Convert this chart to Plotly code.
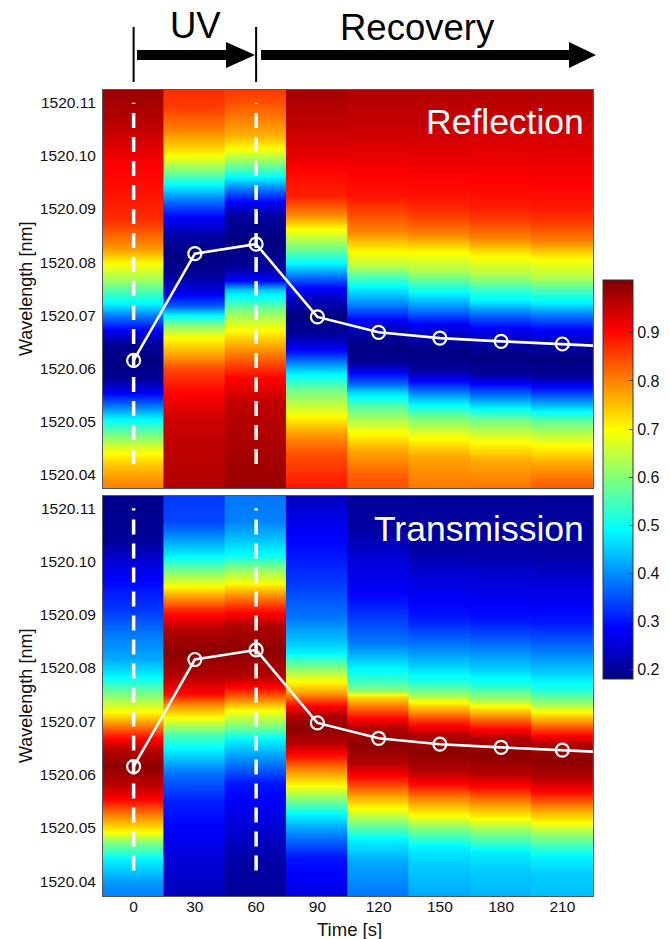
import plotly.graph_objects as go

# ---------------- data ----------------
TIMES = [0, 30, 60, 90, 120, 150, 180, 210]
COLUMN_HALF_WIDTH = 15

# white line (peak wavelength)
PEAK_WL = [1520.0615, 1520.0816, 1520.0834, 1520.0697, 1520.0668, 1520.0657, 1520.0651, 1520.0646]
TAIL_TIME = 225
TAIL_WL = 1520.0643

DASH_TIMES = [0, 60]
DASH_SPAN = [1520.042, 1520.110]

WL_TICKS = [1520.04, 1520.05, 1520.06, 1520.07, 1520.08, 1520.09, 1520.10, 1520.11]
CBAR_TICKS = [0.2, 0.3, 0.4, 0.5, 0.6, 0.7, 0.8, 0.9]

# Reflection spectra (wavelength, normalised value) per time column
R000_WL = [1520.1124, 1520.1057, 1520.0987, 1520.0925, 1520.0882, 1520.0855, 1520.0825, 1520.0799, 1520.0767, 1520.0744, 1520.0722, 1520.0699, 1520.0673, 1520.0648, 1520.0614, 1520.0581, 1520.0558, 1520.0535, 1520.0507, 1520.0479, 1520.0445, 1520.0417, 1520.0389, 1520.0376]
R000_VAL = [0.99, 0.96, 0.91, 0.89, 0.87, 0.83, 0.78, 0.70, 0.62, 0.55, 0.48, 0.38, 0.28, 0.20, 0.18, 0.20, 0.27, 0.36, 0.48, 0.58, 0.69, 0.75, 0.79, 0.80]
R030_WL = [1520.1124, 1520.1094, 1520.1049, 1520.1019, 1520.1002, 1520.0974, 1520.0944, 1520.0912, 1520.0884, 1520.0852, 1520.0814, 1520.0776, 1520.0742, 1520.0718, 1520.0705, 1520.0686, 1520.0662, 1520.0620, 1520.0599, 1520.0560, 1520.0503, 1520.0376]
R030_VAL = [0.87, 0.86, 0.80, 0.74, 0.70, 0.60, 0.48, 0.36, 0.28, 0.21, 0.18, 0.20, 0.27, 0.36, 0.46, 0.58, 0.69, 0.79, 0.85, 0.90, 0.95, 0.97]
R060_WL = [1520.1124, 1520.1100, 1520.1068, 1520.1038, 1520.1015, 1520.0987, 1520.0959, 1520.0938, 1520.0914, 1520.0887, 1520.0840, 1520.0790, 1520.0767, 1520.0748, 1520.0709, 1520.0677, 1520.0635, 1520.0586, 1520.0535, 1520.0376]
R060_VAL = [0.86, 0.84, 0.80, 0.76, 0.70, 0.60, 0.48, 0.38, 0.28, 0.20, 0.18, 0.20, 0.28, 0.45, 0.60, 0.69, 0.79, 0.90, 0.96, 0.99]
R090_WL = [1520.1124, 1520.1070, 1520.1006, 1520.0965, 1520.0925, 1520.0908, 1520.0891, 1520.0863, 1520.0831, 1520.0797, 1520.0774, 1520.0756, 1520.0737, 1520.0699, 1520.0667, 1520.0639, 1520.0618, 1520.0594, 1520.0562, 1520.0515, 1520.0473, 1520.0441, 1520.0376]
R090_VAL = [0.98, 0.96, 0.93, 0.90, 0.88, 0.84, 0.80, 0.70, 0.60, 0.48, 0.38, 0.30, 0.24, 0.18, 0.20, 0.27, 0.36, 0.47, 0.58, 0.69, 0.79, 0.84, 0.89]
R120_WL = [1520.1124, 1520.1051, 1520.0995, 1520.0925, 1520.0895, 1520.0859, 1520.0837, 1520.0820, 1520.0793, 1520.0774, 1520.0752, 1520.0718, 1520.0692, 1520.0667, 1520.0643, 1520.0611, 1520.0594, 1520.0573, 1520.0556, 1520.0524, 1520.0483, 1520.0447, 1520.0400, 1520.0376]
R120_VAL = [0.97, 0.95, 0.92, 0.89, 0.85, 0.80, 0.74, 0.70, 0.64, 0.56, 0.48, 0.38, 0.28, 0.21, 0.18, 0.20, 0.28, 0.36, 0.46, 0.58, 0.69, 0.77, 0.83, 0.84]
R150_WL = [1520.1124, 1520.1051, 1520.0987, 1520.0919, 1520.0889, 1520.0853, 1520.0820, 1520.0788, 1520.0769, 1520.0756, 1520.0741, 1520.0710, 1520.0684, 1520.0654, 1520.0631, 1520.0599, 1520.0579, 1520.0562, 1520.0537, 1520.0511, 1520.0473, 1520.0436, 1520.0391, 1520.0376]
R150_VAL = [0.97, 0.95, 0.92, 0.89, 0.86, 0.80, 0.70, 0.64, 0.58, 0.53, 0.48, 0.38, 0.28, 0.21, 0.18, 0.20, 0.28, 0.36, 0.47, 0.58, 0.69, 0.77, 0.80, 0.81]
R180_WL = [1520.1124, 1520.1040, 1520.0965, 1520.0912, 1520.0882, 1520.0846, 1520.0812, 1520.0780, 1520.0761, 1520.0748, 1520.0727, 1520.0705, 1520.0677, 1520.0646, 1520.0624, 1520.0592, 1520.0573, 1520.0554, 1520.0530, 1520.0505, 1520.0466, 1520.0426, 1520.0389, 1520.0376]
R180_VAL = [0.97, 0.94, 0.91, 0.89, 0.86, 0.80, 0.70, 0.64, 0.58, 0.53, 0.48, 0.38, 0.28, 0.21, 0.18, 0.20, 0.28, 0.36, 0.47, 0.58, 0.69, 0.77, 0.80, 0.81]
R210_WL = [1520.1124, 1520.1040, 1520.0959, 1520.0906, 1520.0876, 1520.0840, 1520.0806, 1520.0774, 1520.0756, 1520.0742, 1520.0724, 1520.0701, 1520.0673, 1520.0643, 1520.0620, 1520.0586, 1520.0567, 1520.0548, 1520.0524, 1520.0500, 1520.0460, 1520.0422, 1520.0389, 1520.0376]
R210_VAL = [0.97, 0.94, 0.91, 0.89, 0.86, 0.80, 0.70, 0.64, 0.58, 0.53, 0.48, 0.38, 0.28, 0.21, 0.18, 0.20, 0.28, 0.36, 0.47, 0.58, 0.69, 0.77, 0.82, 0.83]

# Transmission spectra
T000_WL = [1520.1123, 1520.1040, 1520.0993, 1520.0946, 1520.0909, 1520.0866, 1520.0819, 1520.0787, 1520.0758, 1520.0740, 1520.0717, 1520.0693, 1520.0674, 1520.0650, 1520.0618, 1520.0580, 1520.0552, 1520.0524, 1520.0492, 1520.0473, 1520.0439, 1520.0393, 1520.0372]
T000_VAL = [0.19, 0.20, 0.26, 0.30, 0.33, 0.38, 0.42, 0.48, 0.57, 0.63, 0.70, 0.80, 0.88, 0.96, 1.00, 0.96, 0.90, 0.80, 0.70, 0.60, 0.48, 0.40, 0.39]
T030_WL = [1520.1123, 1520.1077, 1520.1046, 1520.1012, 1520.0986, 1520.0956, 1520.0931, 1520.0905, 1520.0871, 1520.0830, 1520.0787, 1520.0751, 1520.0733, 1520.0708, 1520.0674, 1520.0646, 1520.0605, 1520.0552, 1520.0496, 1520.0439, 1520.0372]
T030_VAL = [0.33, 0.34, 0.40, 0.48, 0.58, 0.69, 0.79, 0.89, 0.97, 1.00, 0.97, 0.90, 0.80, 0.70, 0.55, 0.48, 0.38, 0.31, 0.28, 0.25, 0.23]
T060_WL = [1520.1123, 1520.1077, 1520.1049, 1520.1014, 1520.0987, 1520.0961, 1520.0937, 1520.0909, 1520.0880, 1520.0834, 1520.0787, 1520.0762, 1520.0745, 1520.0721, 1520.0693, 1520.0665, 1520.0629, 1520.0584, 1520.0505, 1520.0439, 1520.0372]
T060_VAL = [0.38, 0.39, 0.43, 0.49, 0.60, 0.69, 0.79, 0.89, 0.97, 1.00, 0.97, 0.90, 0.82, 0.70, 0.60, 0.48, 0.40, 0.30, 0.25, 0.21, 0.20]
T090_WL = [1520.1123, 1520.1087, 1520.1031, 1520.0959, 1520.0895, 1520.0852, 1520.0830, 1520.0805, 1520.0777, 1520.0755, 1520.0745, 1520.0730, 1520.0712, 1520.0687, 1520.0661, 1520.0637, 1520.0610, 1520.0580, 1520.0554, 1520.0524, 1520.0492, 1520.0445, 1520.0372]
T090_VAL = [0.23, 0.26, 0.29, 0.33, 0.38, 0.44, 0.48, 0.58, 0.69, 0.77, 0.82, 0.90, 0.97, 1.00, 0.97, 0.90, 0.80, 0.70, 0.60, 0.48, 0.40, 0.30, 0.26]
T120_WL = [1520.1123, 1520.1059, 1520.1006, 1520.0942, 1520.0895, 1520.0849, 1520.0811, 1520.0779, 1520.0758, 1520.0747, 1520.0730, 1520.0712, 1520.0687, 1520.0655, 1520.0623, 1520.0595, 1520.0567, 1520.0537, 1520.0511, 1520.0477, 1520.0436, 1520.0372]
T120_VAL = [0.20, 0.21, 0.25, 0.28, 0.33, 0.38, 0.46, 0.53, 0.60, 0.72, 0.80, 0.88, 0.97, 1.00, 0.97, 0.90, 0.80, 0.70, 0.60, 0.48, 0.42, 0.38]
T150_WL = [1520.1123, 1520.1021, 1520.0974, 1520.0895, 1520.0856, 1520.0805, 1520.0773, 1520.0758, 1520.0747, 1520.0736, 1520.0717, 1520.0698, 1520.0674, 1520.0642, 1520.0608, 1520.0582, 1520.0556, 1520.0524, 1520.0500, 1520.0464, 1520.0430, 1520.0372]
T150_VAL = [0.20, 0.21, 0.25, 0.30, 0.36, 0.45, 0.52, 0.58, 0.63, 0.70, 0.79, 0.88, 0.97, 1.00, 0.97, 0.90, 0.80, 0.70, 0.60, 0.48, 0.45, 0.42]
T180_WL = [1520.1123, 1520.1021, 1520.0969, 1520.0890, 1520.0852, 1520.0800, 1520.0768, 1520.0753, 1520.0740, 1520.0728, 1520.0710, 1520.0691, 1520.0668, 1520.0636, 1520.0605, 1520.0576, 1520.0550, 1520.0518, 1520.0492, 1520.0454, 1520.0421, 1520.0372]
T180_VAL = [0.20, 0.21, 0.25, 0.30, 0.36, 0.45, 0.52, 0.58, 0.63, 0.70, 0.79, 0.88, 0.97, 1.00, 0.97, 0.90, 0.80, 0.70, 0.60, 0.48, 0.45, 0.43]
T210_WL = [1520.1123, 1520.1012, 1520.0965, 1520.0886, 1520.0847, 1520.0792, 1520.0758, 1520.0743, 1520.0730, 1520.0717, 1520.0698, 1520.0680, 1520.0657, 1520.0627, 1520.0595, 1520.0567, 1520.0541, 1520.0511, 1520.0485, 1520.0445, 1520.0411, 1520.0372]
T210_VAL = [0.20, 0.21, 0.25, 0.30, 0.36, 0.45, 0.52, 0.58, 0.63, 0.70, 0.79, 0.88, 0.97, 1.00, 0.97, 0.90, 0.80, 0.70, 0.60, 0.48, 0.45, 0.44]

REFLECTION = [(R000_WL, R000_VAL), (R030_WL, R030_VAL), (R060_WL, R060_VAL), (R090_WL, R090_VAL),
              (R120_WL, R120_VAL), (R150_WL, R150_VAL), (R180_WL, R180_VAL), (R210_WL, R210_VAL)]
TRANSMISSION = [(T000_WL, T000_VAL), (T030_WL, T030_VAL), (T060_WL, T060_VAL), (T090_WL, T090_VAL),
                (T120_WL, T120_VAL), (T150_WL, T150_VAL), (T180_WL, T180_VAL), (T210_WL, T210_VAL)]

# ---------------- style / layout ----------------
W, H = 670, 939
FONT = "Liberation Sans, Arial, Helvetica, sans-serif"
JET = [[0.0, "rgb(0,0,128)"], [0.125, "rgb(0,0,255)"], [0.375, "rgb(0,255,255)"],
       [0.625, "rgb(255,255,0)"], [0.875, "rgb(255,0,0)"], [1.0, "rgb(128,0,0)"]]
SEAM_OVERLAP = 0.4   # small overlap so neighbouring columns leave no white seam

PLOT_L, PLOT_R = 103, 593
TOP_T, TOP_B = 90, 488
BOT_T, BOT_B = 496, 896


def px_x(p):
    return p / W


def px_y(p):
    return 1 - p / H


fig = go.Figure()


def add_panel(columns, xa, ya):
    for t, (wl, vals) in zip(TIMES, columns):
        pairs = sorted(zip(wl, vals))
        ys = [p[0] for p in pairs]
        z = [[p[1], p[1]] for p in pairs]
        hw = (COLUMN_HALF_WIDTH + SEAM_OVERLAP) / 2
        fig.add_trace(go.Heatmap(
            x=[t - hw, t + hw], y=ys, z=z,
            coloraxis="coloraxis", zsmooth="best", xaxis=xa, yaxis=ya,
            hoverinfo="skip", showlegend=False))
    dx, dy = [], []
    for t in DASH_TIMES:
        dx += [t, t, None]
        dy += [DASH_SPAN[0], DASH_SPAN[1], None]
    fig.add_trace(go.Scatter(x=dx, y=dy, mode="lines", xaxis=xa, yaxis=ya,
                             line=dict(color="white", width=3.5, dash="15px,9px"),
                             hoverinfo="skip", showlegend=False))
    fig.add_trace(go.Scatter(x=TIMES + [TAIL_TIME], y=PEAK_WL + [TAIL_WL], mode="lines",
                             xaxis=xa, yaxis=ya, line=dict(color="white", width=2.6),
                             hoverinfo="skip", showlegend=False))
    fig.add_trace(go.Scatter(x=TIMES, y=PEAK_WL, mode="markers", xaxis=xa, yaxis=ya,
                             marker=dict(symbol="circle-open", size=13, color="white",
                                         line=dict(width=2.2, color="white")),
                             hoverinfo="skip", showlegend=False))


add_panel(REFLECTION, "x", "y")
add_panel(TRANSMISSION, "x2", "y2")

axis_common = dict(showline=True, mirror=True, linecolor="#555", linewidth=1,
                   ticks="", showgrid=False, zeroline=False,
                   tickfont=dict(family=FONT, size=15.5, color="#111"))

xdom = [px_x(PLOT_L), px_x(PLOT_R)]
fig.update_layout(
    width=W, height=H, margin=dict(l=0, r=0, t=0, b=0),
    paper_bgcolor="white", plot_bgcolor="white",
    font=dict(family=FONT, color="#111"),
    xaxis=dict(domain=xdom, range=[-15, 225], anchor="y", tickvals=TIMES,
               showticklabels=False, **axis_common),
    xaxis2=dict(domain=xdom, range=[-15, 225], anchor="y2", tickvals=TIMES,
                ticklabelstandoff=-4, **axis_common),
    yaxis=dict(domain=[px_y(TOP_B), px_y(TOP_T)], range=[1520.0375, 1520.1124], anchor="x",
               tickvals=WL_TICKS, tickformat=".2f", ticklabelstandoff=3, **axis_common),
    yaxis2=dict(domain=[px_y(BOT_B), px_y(BOT_T)], range=[1520.0372, 1520.1123], anchor="x2",
                tickvals=WL_TICKS, tickformat=".2f", ticklabelstandoff=3, **axis_common),
    coloraxis=dict(
        colorscale=JET, cmin=0.18, cmax=1.01,
        colorbar=dict(x=px_x(603), xanchor="left", y=px_y(479.5), yanchor="middle",
                      len=399 / H, lenmode="fraction", thickness=30, thicknessmode="pixels",
                      xpad=0, ypad=0, outlinewidth=1, outlinecolor="#333",
                      tickvals=CBAR_TICKS, ticktext=[f"{v:.1f}" for v in CBAR_TICKS],
                      ticks="inside", ticklen=4, tickcolor="#333",
                      tickfont=dict(family=FONT, size=16, color="#111")),
    ),
)

# axis titles
for top, bot in [(TOP_T, TOP_B), (BOT_T, BOT_B)]:
    fig.add_annotation(text="Wavelength [nm]", xref="paper", yref="paper",
                       x=px_x(26), y=px_y((top + bot) / 2), textangle=-90,
                       xanchor="center", yanchor="middle", showarrow=False,
                       font=dict(family=FONT, size=18, color="#111"))
fig.add_annotation(text="Time [s]", xref="paper", yref="paper", x=px_x(350), y=px_y(929),
                   xanchor="center", yanchor="middle", showarrow=False,
                   font=dict(family=FONT, size=18.5, color="#111"))

# panel labels
fig.add_annotation(text="Reflection", xref="x domain", yref="y domain", x=0.986, y=0.92,
                   xanchor="right", yanchor="middle", showarrow=False,
                   font=dict(family=FONT, size=35.5, color="white"))
fig.add_annotation(text="Transmission", xref="x2 domain", yref="y2 domain", x=0.986, y=0.918,
                   xanchor="right", yanchor="middle", showarrow=False,
                   font=dict(family=FONT, size=35.5, color="white"))

# header: UV / Recovery arrows
fig.add_annotation(text="UV", xref="paper", yref="paper", x=px_x(195), y=px_y(26),
                   xanchor="center", yanchor="middle", showarrow=False,
                   font=dict(family=FONT, size=36.5, color="black"))
fig.add_annotation(text="Recovery", xref="paper", yref="paper", x=px_x(417), y=px_y(27),
                   xanchor="center", yanchor="middle", showarrow=False,
                   font=dict(family=FONT, size=36.5, color="black"))

for t in DASH_TIMES:
    fig.add_shape(type="line", xref="x", yref="paper", x0=t, x1=t, y0=px_y(82), y1=px_y(27),
                  line=dict(color="black", width=2))


def arrow(x_start, x_base, x_tip):
    fig.add_shape(type="rect", xref="paper", yref="paper",
                  x0=px_x(x_start), x1=px_x(x_base + 1), y0=px_y(60), y1=px_y(50),
                  line=dict(width=0), fillcolor="black")
    path = (f"M {px_x(x_base)},{px_y(42)} L {px_x(x_tip)},{px_y(55)} "
            f"L {px_x(x_base)},{px_y(68)} Z")
    fig.add_shape(type="path", xref="paper", yref="paper", path=path,
                  line=dict(width=0), fillcolor="black")


arrow(137, 226, 255)
arrow(261, 569, 596)

fig.write_html("out.html", config={"displayModeBar": False},
               post_script="document.body.style.margin='0';")
